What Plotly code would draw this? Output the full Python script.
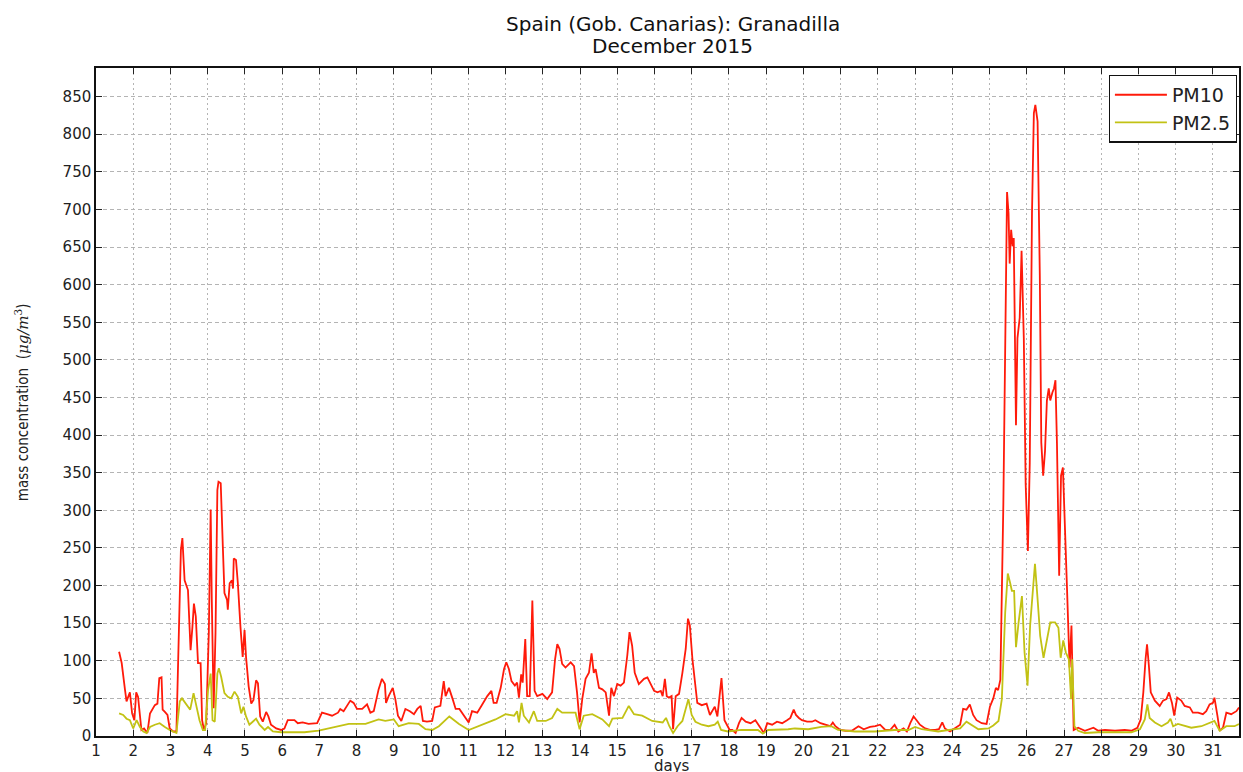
import plotly.graph_objects as go

# Hourly-ish PM readings, Granadilla station, December 2015 (day of month as decimal)
pm10_day = [
    1.62, 1.69, 1.78, 1.82, 1.91, 1.97, 2.03, 2.08, 2.13, 2.18, 2.22, 2.29, 2.38, 2.45,
    2.58, 2.65, 2.70, 2.76, 2.79, 2.85, 2.92, 2.98, 3.07, 3.16, 3.23, 3.28, 3.32, 3.38,
    3.47, 3.54, 3.59, 3.63, 3.68, 3.74, 3.81, 3.85, 3.90, 3.96, 4.03, 4.08, 4.11, 4.16,
    4.21, 4.26, 4.29, 4.35, 4.41, 4.45, 4.52, 4.54, 4.59, 4.65, 4.68, 4.70, 4.76, 4.81,
    4.88, 4.94, 4.99, 5.03, 5.10, 5.17, 5.23, 5.30, 5.35, 5.41, 5.48, 5.57, 5.63, 5.70,
    5.84, 5.97, 6.06, 6.15, 6.33, 6.42, 6.55, 6.71, 6.94, 7.07, 7.21, 7.34, 7.50, 7.56,
    7.65, 7.74, 7.83, 7.92, 8.01, 8.15, 8.28, 8.37, 8.46, 8.59, 8.68, 8.76, 8.79, 8.86,
    8.97, 9.04, 9.11, 9.20, 9.31, 9.43, 9.54, 9.63, 9.72, 9.78, 9.89, 10.03, 10.10, 10.25,
    10.34, 10.39, 10.48, 10.58, 10.66, 10.76, 10.88, 11.01, 11.10, 11.24, 11.35, 11.51,
    11.62, 11.68, 11.76, 11.87, 11.96, 12.02, 12.09, 12.16, 12.25, 12.31, 12.36, 12.42,
    12.46, 12.53, 12.58, 12.65, 12.72, 12.78, 12.85, 12.99, 13.12, 13.25, 13.33, 13.39,
    13.45, 13.52, 13.61, 13.75, 13.84, 13.92, 13.99, 14.06, 14.15, 14.24, 14.31, 14.37,
    14.42, 14.51, 14.60, 14.69, 14.78, 14.84, 14.91, 15.00, 15.09, 15.18, 15.27, 15.33,
    15.40, 15.47, 15.58, 15.72, 15.81, 15.90, 15.99, 16.08, 16.17, 16.22, 16.28, 16.33,
    16.39, 16.46, 16.50, 16.57, 16.66, 16.75, 16.84, 16.90, 16.95, 17.02, 17.15, 17.27,
    17.40, 17.49, 17.62, 17.69, 17.80, 17.88, 18.02, 18.09, 18.18, 18.27, 18.34, 18.45,
    18.58, 18.71, 18.80, 18.94, 19.03, 19.16, 19.29, 19.43, 19.56, 19.65, 19.74, 19.80,
    19.88, 19.96, 20.10, 20.23, 20.32, 20.46, 20.59, 20.72, 20.79, 20.86, 20.99, 21.13,
    21.30, 21.48, 21.62, 21.79, 21.93, 22.06, 22.20, 22.33, 22.45, 22.55, 22.69, 22.78,
    22.87, 22.96, 23.04, 23.13, 23.27, 23.40, 23.54, 23.64, 23.73, 23.80, 23.94, 24.07,
    24.21, 24.29, 24.38, 24.47, 24.56, 24.65, 24.79, 24.92, 25.01, 25.10, 25.17, 25.23,
    25.29, 25.37, 25.43, 25.47, 25.51, 25.54, 25.58, 25.62, 25.65, 25.71, 25.75, 25.81,
    25.86, 25.92, 25.97, 26.03, 26.08, 26.14, 26.19, 26.23, 26.29, 26.35, 26.39, 26.44,
    26.49, 26.54, 26.59, 26.63, 26.69, 26.73, 26.77, 26.81, 26.87, 26.92, 26.97, 27.03,
    27.08, 27.15, 27.20, 27.26, 27.38, 27.56, 27.79, 27.92, 28.10, 28.37, 28.63, 28.81,
    28.97, 29.06, 29.13, 29.19, 29.23, 29.28, 29.33, 29.44, 29.57, 29.66, 29.75, 29.82,
    29.90, 29.96, 30.04, 30.15, 30.24, 30.38, 30.46, 30.60, 30.73, 30.82, 30.91, 31.00,
    31.04, 31.12, 31.18, 31.27, 31.36, 31.49, 31.63, 31.70,
]
pm10_val = [
    112, 97, 61, 46, 58, 30, 21, 58, 52, 21, 8, 10, 4, 30,
    41, 43, 77, 78, 35, 32, 28, 10, 6, 6, 172, 247, 263, 207,
    194, 114, 145, 176, 159, 97, 97, 21, 8, 17, 137, 301, 181, 37,
    137, 327, 338, 336, 247, 190, 181, 168, 203, 207, 196, 236, 234, 203,
    145, 105, 141, 105, 66, 43, 48, 74, 70, 26, 19, 32, 26, 15,
    10, 8, 10, 21, 21, 17, 18, 16, 17, 31, 29, 27, 31, 36,
    33, 40, 47, 44, 36, 36, 42, 31, 33, 62, 76, 69, 44, 53,
    64, 49, 27, 20, 36, 33, 29, 36, 40, 20, 19, 20, 38, 40,
    73, 53, 64, 49, 36, 36, 27, 18, 33, 31, 40, 53,
    60, 44, 44, 64, 89, 98, 89, 73, 67, 71, 51, 82,
    71, 129, 53, 53, 180, 60, 53, 56, 49, 58, 102, 122,
    116, 96, 91, 98, 93, 58, 18, 49, 76, 84, 110, 84,
    89, 64, 62, 58, 27, 64, 53, 69, 67, 71, 107, 138,
    120, 84, 69, 76, 78, 69, 60, 58, 60, 53, 76, 53,
    51, 53, 9, 53, 56, 84, 116, 156, 147, 102, 44, 41,
    43, 28, 39, 26, 77, 21, 8, 8, 4, 17, 24, 19,
    17, 21, 15, 4, 17, 15, 19, 17, 21, 24, 35, 28,
    24, 21, 19, 19, 21, 17, 15, 13, 18, 13, 8, 7,
    7, 13, 9, 12, 13, 15, 8, 8, 15, 6, 10, 6,
    17, 26, 21, 15, 10, 8, 8, 9, 18, 10, 6, 10,
    15, 36, 35, 42, 28, 21, 17, 16, 39, 50, 64, 61,
    75, 307, 529, 723, 695, 628, 673, 651, 662, 413, 529, 556,
    645, 529, 335, 246, 363, 695, 828, 839, 817, 612, 390, 346,
    379, 446, 462, 446, 457, 462, 473, 390, 213, 346, 357, 280,
    197, 91, 147, 8, 11, 7, 11, 7, 8, 7, 8, 7,
    11, 22, 58, 102, 122, 93, 58, 47, 40, 47, 49, 58,
    44, 27, 51, 47, 40, 38, 31, 31, 29, 33, 42, 44,
    51, 27, 7, 11, 31, 29, 33, 38,
]

pm25_day = [
    1.62, 1.73, 1.82, 1.91, 2.00, 2.09, 2.18, 2.27, 2.36, 2.45, 2.58, 2.71, 2.85, 2.98,
    3.16, 3.25, 3.31, 3.43, 3.53, 3.62, 3.69, 3.78, 3.87, 3.93, 4.01, 4.08, 4.13, 4.19,
    4.26, 4.30, 4.36, 4.45, 4.54, 4.63, 4.72, 4.81, 4.90, 4.96, 5.03, 5.12, 5.21, 5.30,
    5.39, 5.53, 5.62, 5.75, 5.97, 6.60, 6.98, 7.34, 7.79, 8.24, 8.59, 8.77, 9.00, 9.13,
    9.40, 9.67, 9.85, 10.03, 10.21, 10.49, 10.75, 11.01, 11.28, 11.55, 11.73, 12.00,
    12.23, 12.31, 12.36, 12.43, 12.49, 12.63, 12.76, 12.85, 13.08, 13.25, 13.39, 13.52,
    13.88, 13.99, 14.10, 14.33, 14.60, 14.78, 14.87, 15.14, 15.31, 15.45, 15.67, 15.94,
    16.22, 16.31, 16.40, 16.50, 16.62, 16.75, 16.91, 17.00, 17.10, 17.27, 17.45, 17.62,
    17.70, 17.79, 17.97, 18.33, 18.78, 18.91, 19.05, 19.59, 19.77, 20.13, 20.48, 20.75,
    20.93, 21.38, 21.92, 22.45, 22.82, 23.00, 23.18, 23.62, 23.98, 24.21, 24.38, 24.52,
    24.70, 24.97, 25.10, 25.24, 25.33, 25.42, 25.49, 25.55, 25.60, 25.66, 25.71, 25.78,
    25.87, 25.94, 26.02, 26.09, 26.18, 26.22, 26.29, 26.36, 26.45, 26.54, 26.63, 26.76,
    26.85, 26.91, 26.98, 27.05, 27.13, 27.19, 27.22, 27.28, 27.38, 27.56, 27.92, 28.81,
    29.04, 29.17, 29.24, 29.30, 29.44, 29.62, 29.79, 29.86, 29.93, 30.06, 30.24, 30.42,
    30.69, 30.96, 31.04, 31.18, 31.36, 31.58, 31.70,
]
pm25_val = [
    30, 28, 23, 21, 10, 21, 12, 6, 4, 12, 15, 17, 12, 8,
    4, 46, 50, 41, 35, 57, 41, 21, 8, 8, 61, 83, 21, 19,
    83, 90, 79, 57, 52, 50, 59, 52, 30, 39, 26, 15, 19, 23,
    15, 8, 12, 6, 5, 5, 7, 11, 16, 16, 22, 20, 22, 13,
    17, 16, 9, 8, 13, 26, 16, 8, 13, 18, 22, 29,
    27, 33, 18, 44, 27, 18, 33, 20, 20, 24, 36, 31,
    31, 9, 27, 29, 22, 13, 23, 24, 40, 29, 27, 20,
    18, 24, 13, 4, 13, 20, 49, 28, 19, 15, 13, 15,
    19, 8, 6, 8, 8, 3, 8, 9, 10, 9, 12, 13,
    8, 6, 6, 8, 8, 12, 9, 6, 8, 10, 19, 15,
    9, 10, 14, 20, 49, 164, 216, 204, 193, 193, 118, 151,
    186, 111, 67, 147, 213, 229, 182, 133, 104, 129, 151, 151,
    144, 104, 127, 111, 102, 49, 102, 13, 7, 4, 5, 5,
    9, 22, 42, 24, 18, 13, 18, 23, 13, 16, 14, 11,
    13, 18, 20, 7, 13, 13, 16,
]

series_names = ["PM10", "PM2.5"]
series_colors = ["#ff1a0a", "#c2c214"]
title_lines = ["Spain (Gob. Canarias): Granadilla", "December 2015"]

y_ticks = list(range(0, 851, 50))
x_ticks = list(range(1, 32))

font_main = "DejaVu Sans"
plot_w = 1243 - 96 - 2
plot_h = 772 - 68 - 36

fig = go.Figure()
fig.add_trace(go.Scatter(x=pm10_day, y=pm10_val, mode="lines", name=series_names[0],
                         line=dict(color=series_colors[0], width=1.8)))
fig.add_trace(go.Scatter(x=pm25_day, y=pm25_val, mode="lines", name=series_names[1],
                         line=dict(color=series_colors[1], width=1.8)))

axis_common = dict(
    showline=True, linecolor="#111111", linewidth=1.5, mirror="ticks",
    ticks="inside", ticklen=6, tickcolor="#222222", tickwidth=1,
    showgrid=True, gridcolor="#b4b4b4", gridwidth=1, zeroline=False,
    tickfont=dict(family=font_main, size=15, color="#222222"),
)

fig.update_layout(
    width=1243, height=772,
    margin=dict(l=96, r=2, t=68, b=36),
    paper_bgcolor="white", plot_bgcolor="white",
    xaxis=dict(range=[1, 31.70], tickvals=x_ticks, griddash="2px,3px", **axis_common),
    yaxis=dict(range=[0, 888], tickvals=y_ticks, griddash="4px,3px", **axis_common),
    legend=dict(x=0.998, y=0.99, xanchor="right", yanchor="top",
                bgcolor="white", bordercolor="#111111", borderwidth=1.2,
                font=dict(family=font_main, size=19, color="#222222"),
                itemwidth=52, tracegroupgap=0),
    showlegend=True,
)

# Two-line title, centred over the plot area
for line_text, y_px in zip(title_lines, [24, 46]):
    fig.add_annotation(
        text=line_text, xref="paper", yref="paper",
        x=(674 - 96) / plot_w, y=1 + (68 - y_px) / plot_h,
        xanchor="center", yanchor="middle", showarrow=False,
        font=dict(family=font_main, size=20, color="#111111"),
    )

fig.add_annotation(
    text="mass concentration  (<span style='font-family:DejaVu Serif'><i>μg/m</i><sup>3</sup></span>)",
    xref="paper", yref="paper", x=(22 - 96) / plot_w, y=0.5,
    xanchor="center", yanchor="middle", textangle=-90, showarrow=False,
    font=dict(family="DejaVu Sans Condensed, DejaVu Sans", size=15, color="#222222"),
)
fig.add_annotation(
    text="days", xref="paper", yref="paper", x=(673 - 96) / plot_w, y=-(766 - 736) / plot_h,
    xanchor="center", yanchor="middle", showarrow=False,
    font=dict(family=font_main, size=15, color="#222222"),
)

fig.write_html("out.html")
